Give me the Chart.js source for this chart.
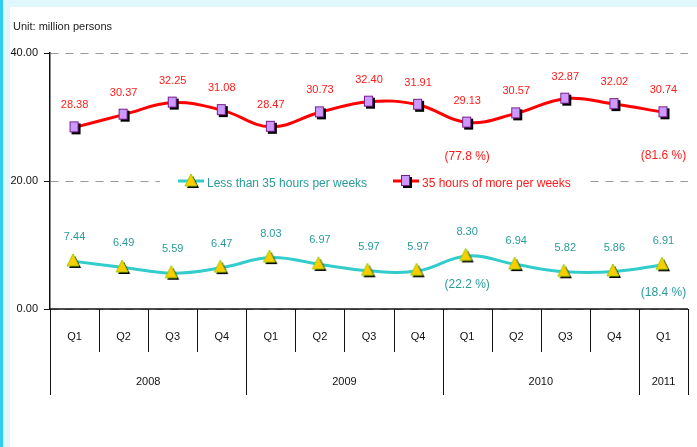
<!DOCTYPE html>
<html>
<head>
<meta charset="utf-8">
<script src="https://cdn.jsdelivr.net/npm/chart.js@4/dist/chart.umd.min.js"></script>
<style>
    html, body { margin: 0; padding: 0; }
    body {
        width: 697px; height: 447px; overflow: hidden;
        background: #e0f7fd;
        border-left: 3px solid #2ccdf2;
        box-sizing: border-box;
        position: relative;
    }
    #panel {
        position: absolute; left: 7px; top: 7px;
        width: 687px; height: 440px; background: #fff;
    }
    #unit {
        position: absolute; left: 3px; top: 13px;
        font: 11px "Liberation Sans", sans-serif; color: #222;
    }
    canvas { position: absolute; left: 0; top: 0; }
</style>
</head>
<body>
<div id="panel">
    <canvas id="chart" width="687" height="440"></canvas>
    <div id="unit">Unit: million persons</div>
</div>
<script>
const FONT = '"Liberation Sans", sans-serif';

const quarters = ["Q1", "Q2", "Q3", "Q4", "Q1", "Q2", "Q3", "Q4", "Q1", "Q2", "Q3", "Q4", "Q1"];
const years = ["2008", "2009", "2010", "2011"];
const yearSpans = [4, 4, 4, 1];

const lessThan35 = [7.44, 6.49, 5.59, 6.47, 8.03, 6.97, 5.97, 5.97, 8.30, 6.94, 5.82, 5.86, 6.91];
const moreThan35 = [28.38, 30.37, 32.25, 31.08, 28.47, 30.73, 32.40, 31.91, 29.13, 30.57, 32.87, 32.02, 30.74];

const lessShare = [null, null, null, null, null, null, null, null, "22.2", null, null, null, "18.4"];
const moreShare = [null, null, null, null, null, null, null, null, "77.8", null, null, null, "81.6"];

const yTicks = [0, 20, 40];

function markerSquare() {
    const c = document.createElement("canvas");
    c.width = 14; c.height = 16;
    const g = c.getContext("2d");
    g.fillStyle = "#000";
    g.fillRect(4, 4, 9, 11);
    g.fillStyle = "#cc99ff";
    g.fillRect(2, 2, 9, 11);
    g.strokeStyle = "#7a1f8a";
    g.lineWidth = 1;
    g.strokeRect(2.5, 2.5, 8, 10);
    return c;
}

function markerTriangle() {
    const c = document.createElement("canvas");
    c.width = 17; c.height = 17;
    const g = c.getContext("2d");
    const tri = (dx, dy) => {
        g.beginPath();
        g.moveTo(7 + dx, 1 + dy);
        g.lineTo(13 + dx, 13 + dy);
        g.lineTo(1 + dx, 13 + dy);
        g.closePath();
    };
    g.fillStyle = "#000";
    tri(2, 2); g.fill();
    g.fillStyle = "#ffcc00";
    tri(0, 0); g.fill();
    g.strokeStyle = "#99cc00";
    g.lineWidth = 1;
    g.stroke();
    return c;
}

const sqImg = markerSquare();
const triImg = markerTriangle();

const datasets = [
    {
        label: "Less than 35 hours per weeks",
        data: lessThan35,
        borderColor: "#33cccc",
        textColor: "#2a9a9a",
        borderWidth: 3,
        tension: 0.4,
        pointStyle: triImg,
        shares: lessShare,
        above: 24,
        below: [29, 28],
    },
    {
        label: "35 hours of more per weeks",
        data: moreThan35,
        borderColor: "#ff0000",
        textColor: "#ff1a1a",
        borderWidth: 3,
        tension: 0.4,
        pointStyle: sqImg,
        shares: moreShare,
        above: 22,
        below: [34, 43],
    },
];

const overlay = {
    id: "overlay",
    beforeDatasetsDraw(chart) {
        const ctx = chart.ctx;
        const area = chart.chartArea;
        const x = chart.scales.x;
        const w = (area.right - area.left) / quarters.length;
        ctx.save();
        // legend box hides the 20.00 grid line
        ctx.fillStyle = "#fff";
        ctx.fillRect(150, 164, 430, 20);

        // x axis line and category separators
        ctx.strokeStyle = "#111";
        ctx.lineWidth = 1.5;
        ctx.beginPath();
        ctx.moveTo(area.left, area.bottom);
        ctx.lineTo(area.right, area.bottom);
        ctx.stroke();

        ctx.lineWidth = 1;
        const yearEdges = [0];
        yearSpans.reduce((a, s) => { yearEdges.push(a + s); return a + s; }, 0);
        for (let i = 0; i <= quarters.length; i++) {
            const px = Math.round(area.left + i * w) + 0.5;
            const long = yearEdges.includes(i);
            ctx.beginPath();
            ctx.moveTo(px, area.bottom);
            ctx.lineTo(px, area.bottom + (long ? 86 : 43));
            ctx.stroke();
        }

        ctx.fillStyle = "#111";
        ctx.font = "11px " + FONT;
        ctx.textAlign = "center";
        ctx.textBaseline = "middle";
        quarters.forEach((q, i) => {
            ctx.fillText(q, x.getPixelForValue(i), area.bottom + 28);
        });
        let start = 0;
        years.forEach((yr, k) => {
            const end = start + yearSpans[k];
            const cx = area.left + (start + end) / 2 * w;
            ctx.fillText(yr, cx, area.bottom + 73);
            start = end;
        });
        ctx.restore();
    },
    afterDatasetsDraw(chart) {
        const ctx = chart.ctx;
        ctx.save();
        ctx.textAlign = "center";
        ctx.textBaseline = "middle";
        chart.data.datasets.forEach((ds, di) => {
            const meta = chart.getDatasetMeta(di);
            ctx.fillStyle = ds.textColor;
            let n = 0;
            meta.data.forEach((pt, i) => {
                ctx.font = "11px " + FONT;
                ctx.fillText(ds.data[i].toFixed(2), pt.x, pt.y - ds.above);
                if (ds.shares[i]) {
                    ctx.font = "12px " + FONT;
                    ctx.fillText("(" + ds.shares[i] + " %)", pt.x, pt.y + ds.below[n++]);
                }
            });
        });

        // legend
        const legendX = [168, 383];
        const legendY = 174;
        ctx.font = "12px " + FONT;
        ctx.textAlign = "left";
        chart.data.datasets.forEach((ds, di) => {
            const lx = legendX[di];
            ctx.strokeStyle = ds.borderColor;
            ctx.lineWidth = 3;
            ctx.beginPath();
            ctx.moveTo(lx, legendY);
            ctx.lineTo(lx + 26, legendY);
            ctx.stroke();
            ctx.drawImage(ds.pointStyle, lx + 13 - 7, legendY - 8);
            ctx.fillStyle = ds.textColor;
            ctx.fillText(ds.label, lx + 29, legendY + 3);
        });
        ctx.restore();
    },
};

new Chart(document.getElementById("chart"), {
    type: "line",
    data: { labels: quarters, datasets },
    options: {
        responsive: false,
        animation: false,
        layout: { padding: { top: 46, bottom: 138, left: 0, right: 0 } },
        plugins: { legend: { display: false }, tooltip: { enabled: false } },
        elements: { point: { radius: 6 } },
        scales: {
            x: {
                type: "category",
                offset: true,
                display: false,
            },
            y: {
                min: 0,
                max: 40,
                afterFit: (s) => { s.width = 40; },
                afterBuildTicks: (s) => { s.ticks = yTicks.map((v) => ({ value: v })); },
                ticks: {
                    color: "#111",
                    padding: 6,
                    font: { family: FONT, size: 11 },
                    callback: (v) => Number(v).toFixed(2),
                },
                grid: {
                    color: "#999",
                    tickColor: "#111",
                    tickLength: 6,
                    tickBorderDash: [],
                },
                border: { color: "#111", width: 1.5, dash: [8, 7] },
            },
        },
    },
    plugins: [overlay],
});
</script>
</body>
</html>
